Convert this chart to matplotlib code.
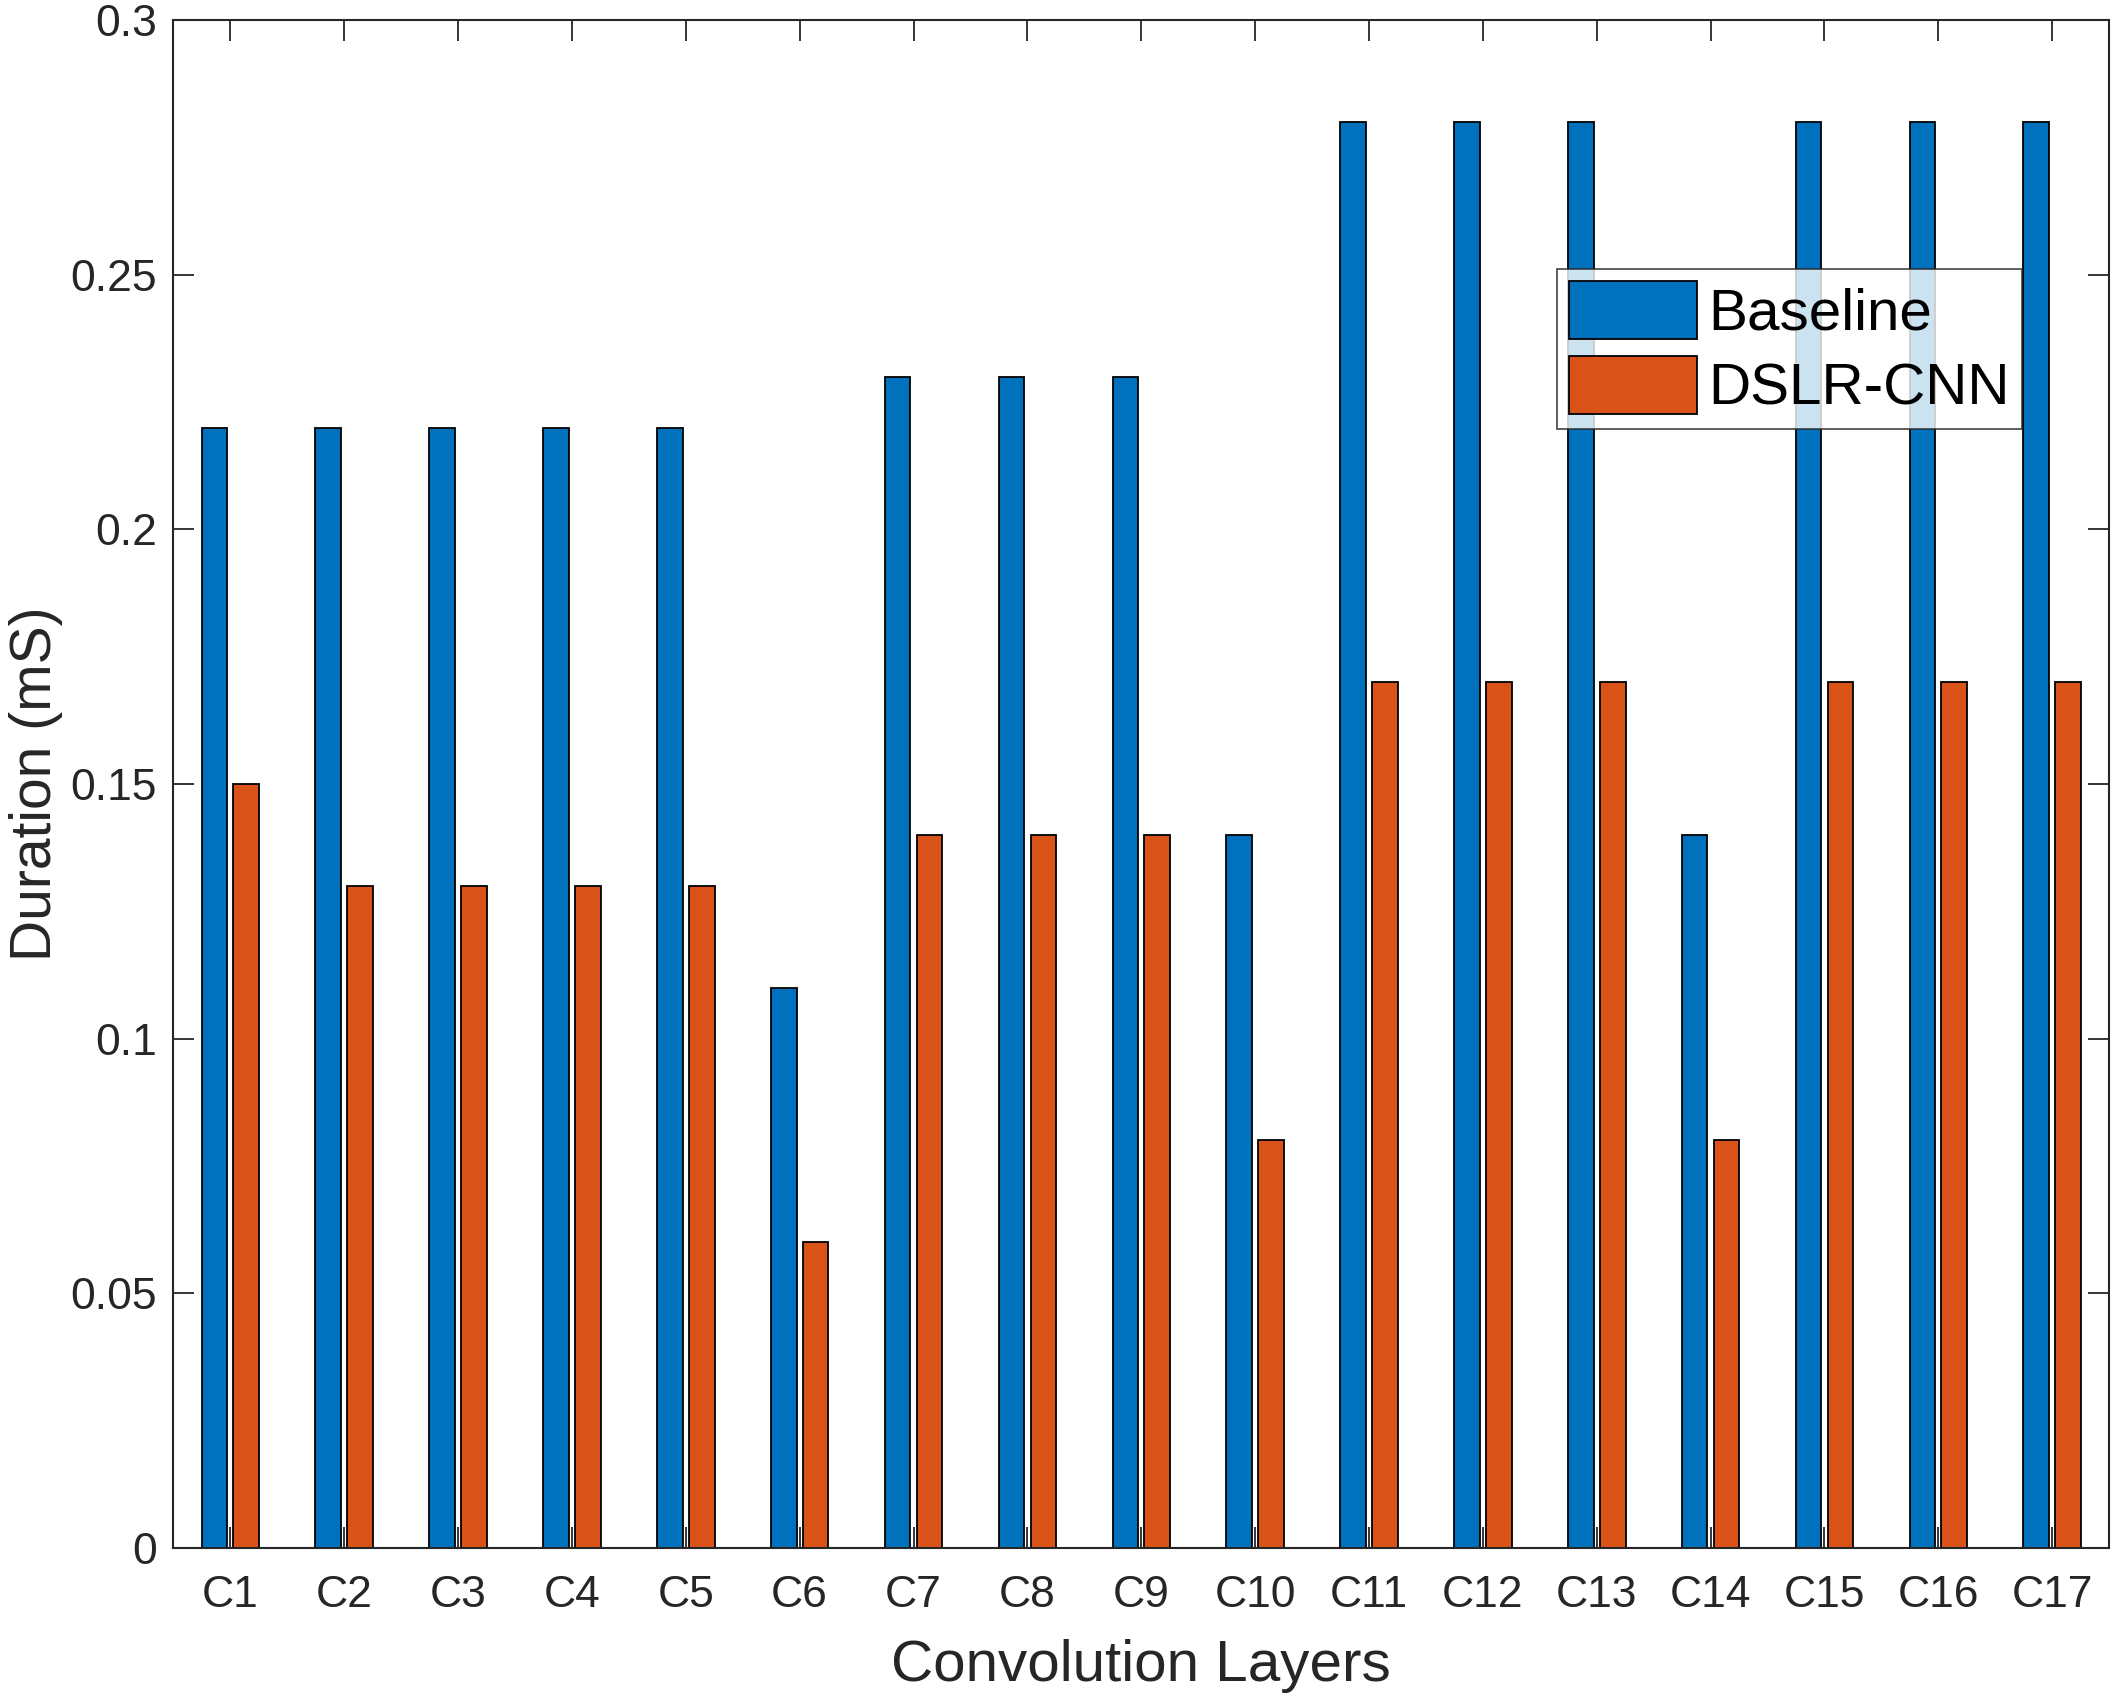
import numpy as np
import matplotlib
matplotlib.use("Agg")
import matplotlib.pyplot as plt

# layer names and durations (ms)
layers   = ['C%d' % i for i in range(1, 18)]
baseline = [0.22, 0.22, 0.22, 0.22, 0.22, 0.11, 0.23, 0.23, 0.23, 0.14,
            0.28, 0.28, 0.28, 0.14, 0.28, 0.28, 0.28]
dslr_cnn = [0.15, 0.13, 0.13, 0.13, 0.13, 0.06, 0.14, 0.14, 0.14, 0.08,
            0.17, 0.17, 0.17, 0.08, 0.17, 0.17, 0.17]
yticks   = [0, 0.05, 0.1, 0.15, 0.2, 0.25, 0.3]
ytick_labels = ['0', '0.05', '0.1', '0.15', '0.2', '0.25', '0.3']

plt.rcParams['font.family'] = ['Liberation Sans', 'DejaVu Sans']
axcol = '#262626'

fig = plt.figure(figsize=(21.17, 17), dpi=100)
ax = fig.add_axes([0.0819, 0.0896, 0.9144, 0.8985])

x = np.arange(1, len(layers) + 1)
w = 0.225
ax.bar(x - 0.14, baseline, width=w, color='#0072BD', edgecolor='black',
       linewidth=1.3, label='Baseline', zorder=3)
ax.bar(x + 0.14, dslr_cnn, width=w, color='#D95319', edgecolor='black',
       linewidth=1.3, label='DSLR-CNN', zorder=3)

ax.set_xlim(0.5, 17.5)
ax.set_ylim(0, 0.3)
ax.set_xticks(x)
ax.set_xticklabels(layers)
ax.set_yticks(yticks)
ax.set_yticklabels(ytick_labels)

ax.tick_params(direction='in', length=15, width=1.3, colors=axcol,
               labelsize=32, top=True, right=True)
ax.tick_params(axis='x', pad=20)
ax.tick_params(axis='y', pad=12)
for s in ax.spines.values():
    s.set_color(axcol)
    s.set_linewidth(1.5)
    s.set_zorder(4)

ax.set_xlabel('Convolution Layers', fontsize=42, color=axcol, labelpad=16)
ax.set_ylabel('Duration (mS)', fontsize=41, color=axcol, labelpad=5)

leg = ax.legend(loc='upper left', bbox_to_anchor=(0.7147, 0.837), fontsize=42,
                frameon=True, fancybox=False, edgecolor=axcol,
                handlelength=2.2, handleheight=1.15, handletextpad=0.2,
                labelspacing=0.25, borderpad=0.2, borderaxespad=0)
leg.get_frame().set_linewidth(1.3)
leg.set_zorder(5)

fig.savefig('out.png', dpi=100)
